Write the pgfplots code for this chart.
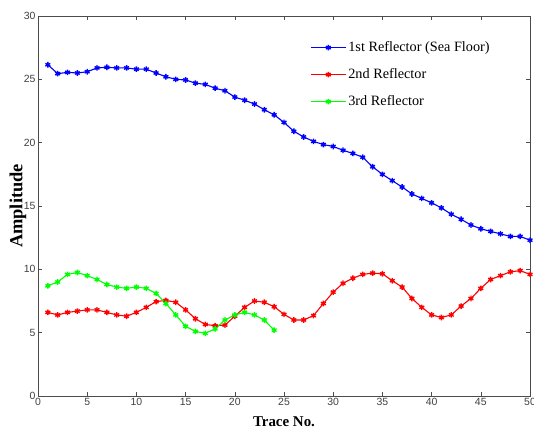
\documentclass[border=0pt]{standalone}
\usepackage{pgfplots}
\pgfplotsset{compat=1.18}
\usepackage{fontspec}
\setmainfont{Liberation Serif}
\newfontfamily\ticksans{Liberation Sans}
\definecolor{mblue}{RGB}{0,0,255}
\definecolor{mred}{RGB}{255,0,0}
\definecolor{mgreen}{RGB}{0,255,0}
\begin{document}
\begin{tikzpicture}
\begin{axis}[
  at={(0,0)}, anchor=south west,
  scale only axis, width=492bp, height=380bp,
  xmin=0, xmax=50, ymin=0, ymax=30,
  xtick={0,5,...,50}, ytick={0,5,...,30},
  tick align=inside, major tick length=4bp,
  tick style={black!70, line width=0.6bp},
  axis line style={black!70, line width=0.8bp},
  ticklabel style={font=\ticksans\fontsize{10.5}{12}\selectfont, text=black!75},
  xticklabel style={yshift=1bp},
  yticklabel style={xshift=1bp},
  /pgf/number format/assume math mode=true,
  xlabel={Trace No.}, ylabel={Amplitude},
  xlabel style={font=\bfseries\fontsize{15}{17}\selectfont, at={(axis description cs:0.5,-0.068)}, anchor=center},
  ylabel style={font=\bfseries\fontsize{18.5}{20}\selectfont, at={(axis description cs:-0.041,0.5)}, anchor=center},
  legend style={draw=none, fill=none, at={(axis description cs:0.553,0.943)}, anchor=north west,
    font=\fontsize{14.3}{16}\selectfont, row sep=11.5bp, inner xsep=0pt, nodes={inner xsep=2bp}},
  legend cell align=left,
  legend image code/.code={\draw[mark repeat=2,mark phase=2] plot coordinates {(0bp,0bp) (17.5bp,0bp) (35bp,0bp)};},
  every axis plot/.append style={line width=1.1bp, mark=asterisk, mark size=2.8bp, mark options={line width=1.4bp}},
]
\addplot[mblue] coordinates {
(1,26.15)(2,25.45)(3,25.55)(4,25.5)(5,25.6)(6,25.9)(7,25.95)(8,25.9)(9,25.9)(10,25.8)
(11,25.8)(12,25.5)(13,25.2)(14,25.0)(15,24.95)(16,24.7)(17,24.6)(18,24.3)(19,24.1)(20,23.6)
(21,23.35)(22,23.05)(23,22.6)(24,22.2)(25,21.6)(26,20.9)(27,20.45)(28,20.1)(29,19.85)(30,19.7)
(31,19.4)(32,19.15)(33,18.85)(34,18.1)(35,17.5)(36,17.0)(37,16.5)(38,15.95)(39,15.6)(40,15.25)
(41,14.85)(42,14.35)(43,13.95)(44,13.5)(45,13.2)(46,13.0)(47,12.8)(48,12.6)(49,12.6)(50,12.3)
};
\addlegendentry{1st Reflector (Sea Floor)}
\addplot[mred] coordinates {
(1,6.6)(2,6.4)(3,6.6)(4,6.7)(5,6.8)(6,6.8)(7,6.6)(8,6.4)(9,6.3)(10,6.6)
(11,7.0)(12,7.45)(13,7.55)(14,7.4)(15,6.8)(16,6.1)(17,5.65)(18,5.55)(19,5.6)(20,6.3)
(21,7.0)(22,7.5)(23,7.4)(24,7.05)(25,6.45)(26,6.0)(27,6.0)(28,6.35)(29,7.3)(30,8.2)
(31,8.9)(32,9.3)(33,9.6)(34,9.7)(35,9.65)(36,9.1)(37,8.6)(38,7.7)(39,7.0)(40,6.4)
(41,6.2)(42,6.4)(43,7.1)(44,7.7)(45,8.5)(46,9.2)(47,9.5)(48,9.8)(49,9.9)(50,9.6)
};
\addlegendentry{2nd Reflector}
\addplot[mgreen] coordinates {
(1,8.7)(2,9.0)(3,9.6)(4,9.75)(5,9.5)(6,9.2)(7,8.8)(8,8.6)(9,8.5)(10,8.6)
(11,8.5)(12,8.1)(13,7.3)(14,6.4)(15,5.5)(16,5.1)(17,4.95)(18,5.3)(19,6.0)(20,6.4)
(21,6.6)(22,6.4)(23,6.0)(24,5.2)
};
\addlegendentry{3rd Reflector}
\end{axis}
\pgfresetboundingbox
\path[use as bounding box] (-38bp,-34bp) rectangle (496bp,396bp);
\end{tikzpicture}
\end{document}
